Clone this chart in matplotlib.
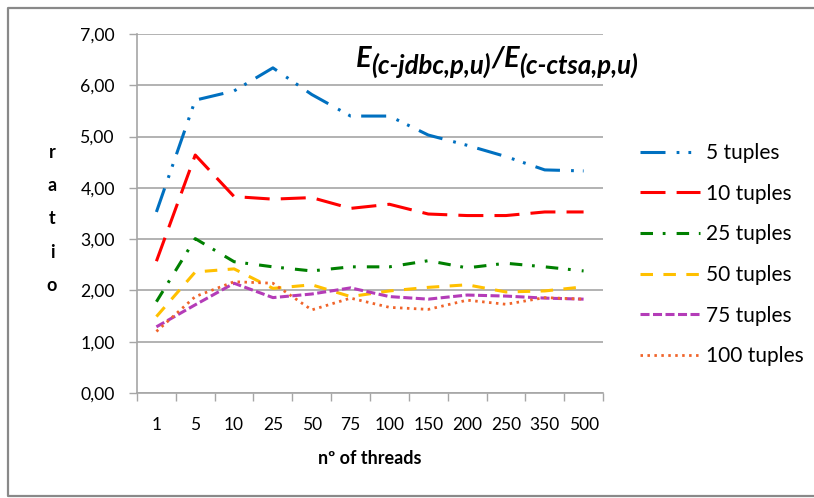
import matplotlib
matplotlib.use("Agg")
import matplotlib.pyplot as plt
from matplotlib.lines import Line2D

# Thread counts on the x axis and energy ratio per tuple count
threads = ['1', '5', '10', '25', '50', '75', '100', '150', '200', '250', '350', '500']
tuples_5 = [3.53, 5.71, 5.89, 6.34, 5.82, 5.40, 5.40, 5.03, 4.83, 4.61, 4.35, 4.33]
tuples_10 = [2.57, 4.64, 3.83, 3.78, 3.81, 3.60, 3.68, 3.49, 3.46, 3.46, 3.53, 3.53]
tuples_25 = [1.78, 3.01, 2.56, 2.46, 2.38, 2.46, 2.46, 2.58, 2.44, 2.53, 2.46, 2.38]
tuples_50 = [1.49, 2.36, 2.42, 2.04, 2.11, 1.88, 1.99, 2.06, 2.11, 1.97, 1.99, 2.07]
tuples_75 = [1.29, 1.72, 2.14, 1.86, 1.93, 2.05, 1.88, 1.83, 1.91, 1.89, 1.85, 1.83]
tuples_100 = [1.20, 1.88, 2.17, 2.14, 1.62, 1.85, 1.67, 1.63, 1.81, 1.73, 1.86, 1.83]
series_labels = ['5 tuples', '10 tuples', '25 tuples', '50 tuples', '75 tuples', '100 tuples']
y_ticks = [0, 1, 2, 3, 4, 5, 6, 7]

plt.rcParams['font.family'] = ['Lato', 'DejaVu Sans']
plt.rcParams['lines.scale_dashes'] = False

W, H = 814, 498
fig = plt.figure(figsize=(W / 100, H / 100), dpi=100)
fig.patch.set_facecolor('white')

# chart-area frame (left, top and bottom edges)
frame_x = [W + 10, 8, 8, W + 10]
frame_y = [8, 8, 496, 496]
fig.lines.append(Line2D([v / W for v in frame_x], [1 - v / H for v in frame_y],
                        transform=fig.transFigure, color='#898989', linewidth=1.6))

ax = fig.add_axes([137 / W, 1 - 393 / H, 466 / W, 359 / H])
x = list(range(len(threads)))

styles = [
    (tuples_5, '#0070C0', (0, (18, 8, 2, 6.5, 2, 7.5)), 2.2),
    (tuples_10, '#FF0000', (0, (18, 8)), 2.2),
    (tuples_25, '#008000', (0, (9, 7, 2, 8)), 2.2),
    (tuples_50, '#FFC000', (0, (9, 7.5)), 2.2),
    (tuples_75, '#B43CB8', (0, (6.5, 2.5)), 2.2),
    (tuples_100, '#F0642A', (0, (1.8, 3.2)), 2.0),
]
for (vals, color, ls, lw), lab in zip(styles, series_labels):
    ax.plot(x, vals, color=color, linestyle=ls, linewidth=lw, label=lab,
            dash_capstyle='butt', solid_capstyle='butt')

ax.set_xlim(-0.5, len(threads) - 0.5)
ax.set_ylim(0, 7)
ax.set_yticks(y_ticks)
ax.set_yticklabels([f'{v:.2f}'.replace('.', ',') for v in y_ticks])
ax.yaxis.grid(True, color='#A6A6A6', linewidth=1.2)
ax.set_axisbelow(True)

ax.set_xticks(x)
ax.set_xticklabels(threads)
ax.set_xticks([i - 0.5 for i in range(len(threads) + 1)], minor=True)
ax.tick_params(axis='x', which='major', length=0, pad=17, labelsize=12.5, colors='#000000')
ax.tick_params(axis='x', which='minor', length=6, width=1.0, color='#A6A6A6', direction='out')
ax.tick_params(axis='y', length=6, width=1.0, color='#A6A6A6', pad=10, labelsize=12.7)

for side in ['top', 'right']:
    ax.spines[side].set_visible(False)
for side in ['left', 'bottom']:
    ax.spines[side].set_color('#A6A6A6')
    ax.spines[side].set_linewidth(1.2)

# stacked y label
fig.text(52 / W, 1 - 219 / H, 'r\na\nt\ni\no', ha='center', va='center',
         fontsize=13, fontweight='bold', linespacing=2.15)

fig.text(370 / W, 1 - 458 / H, 'nº of threads', ha='center', va='center',
         fontsize=13, fontweight='bold')

# ratio formula: main letters with lowered subscripts, laid out left to right
renderer = fig.canvas.get_renderer()
title_parts = [('E', 21, 67), ('(c-jdbc,p,u)', 18.5, 74), ('/', 21, 67),
               ('E', 21, 67), ('(c-ctsa,p,u)', 18.5, 74)]
xpix = 356
for s, size, base in title_parts:
    t = fig.text(xpix / W, 1 - base / H, s, fontsize=size, fontweight='bold',
                 fontstyle='italic', ha='left', va='baseline')
    xpix = t.get_window_extent(renderer).x1

fig.legend(loc='upper left', bbox_to_anchor=(640 / W, 1 - 143 / H),
           bbox_transform=fig.transFigure, frameon=False, fontsize=15,
           handlelength=2.9, handletextpad=0.25, labelspacing=0.99,
           borderpad=0, borderaxespad=0)

fig.savefig('out.png', dpi=100, facecolor='white')
